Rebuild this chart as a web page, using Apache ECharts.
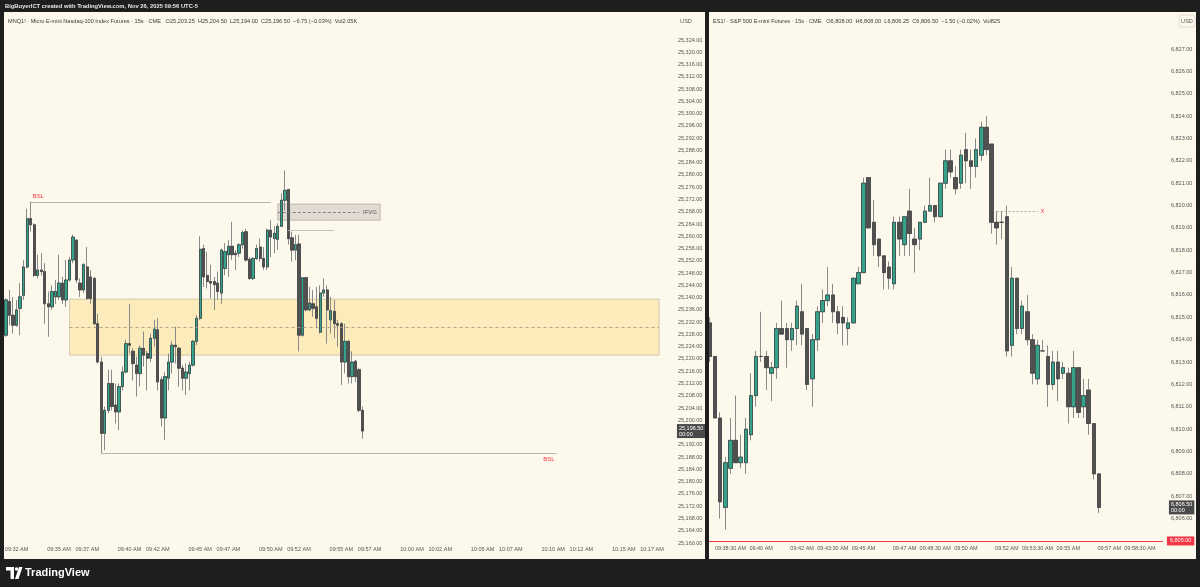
<!DOCTYPE html>
<html><head><meta charset="utf-8">
<script src="https://cdn.jsdelivr.net/npm/echarts@6/dist/echarts.min.js"></script>
<style>html,body{margin:0;padding:0;background:#1e1e1e;}#c{width:1200px;height:587px;}</style>
</head><body><div id="c"></div>
<script>
// ---------- MNQ1! (left pane), 15s candles: [open, close, low, high]
const mnqStart = '09:31:15';
const mnqSlotCount = 190;
const mnqCandles = [
[25227.75,25239.25,25227.25,25239.75],[25238.75,25234.25,25231,25242.5],[25234.25,25231,25228.25,25240.25],
[25231,25236,25230.5,25239.25],[25236.5,25240.25,25227.75,25244.75],[25240.75,25250,25239.25,25252.25],
[25250,25265.75,25249.5,25269],[25265.75,25263.75,25261.5,25271.25],[25263.75,25247.25,25246.75,25264.25],
[25247.25,25249,25246.25,25254],[25249,25248.5,25247.25,25254.5],[25248.5,25238,25231.5,25251.25],
[25238,25237,25227.25,25242],[25237,25242,25236,25244],[25240.25,25242,25238,25245.75],
[25240.25,25244.75,25239.25,25254],[25244.75,25239.25,25238,25246.75],[25239.25,25245.75,25237,25252.25],
[25245.75,25252.25,25245.25,25253.25],[25252.25,25259.75,25251.25,25260.5],[25258.75,25245.75,25244.75,25259],
[25244.75,25242.5,25240.25,25246.25],[25242.5,25250.75,25241.5,25251.25],[25250,25239.75,25239.25,25256.5],
[25246.75,25239.75,25238,25249],[25246.25,25231.5,25231,25246.75],[25231.5,25219,25218.5,25234.75],
[25219,25195.75,25189.25,25220.75],[25195.75,25203.25,25190.25,25204.5],[25203.25,25212,25202.25,25216.5],
[25212,25204.5,25203.25,25216.5],[25205,25202.75,25199,25212],[25202.75,25211,25196.75,25212],
[25211,25215.75,25209.75,25217.5],[25215.75,25225,25215.25,25226.25],[25225,25224.5,25221.75,25238],
[25222.5,25218.5,25213,25223.5],[25218,25215.25,25207.75,25220.75],[25215.25,25223.5,25211,25224.5],
[25223.5,25221.25,25217.5,25229],[25221.75,25220.25,25209.75,25222.75],[25220.25,25226.75,25219,25228.25],
[25226.75,25229.75,25224,25232.75],[25229.5,25212.5,25209.75,25233.25],[25213.25,25200.75,25198,25214.25],
[25200.75,25214.25,25193.5,25215.75],[25213.75,25219,25209.75,25221.75],[25219,25224.5,25215.25,25225.75],
[25224.5,25224,25218.5,25230.5],[25223.5,25217,25211,25224],[25217,25213.75,25209.75,25218],
[25213.75,25215.75,25208.25,25218.5],[25215.25,25218,25209.75,25219],[25218,25225.75,25217.5,25226.25],
[25225.75,25233.25,25224.5,25234.25],[25233.25,25255.75,25232.75,25260],[25256,25246.75,25243.5,25257.25],
[25247.25,25245.25,25243,25255],[25245.25,25244.75,25239.75,25250.75],[25245.25,25244.25,25236,25246.75],
[25244.75,25242,25239.25,25248.5],[25241.5,25255.5,25238,25256],[25249.5,25255,25247.25,25257.75],
[25254,25256.75,25246.75,25258.75],[25256.75,25254,25252.25,25264.75],[25254.5,25254,25249,25255.5],
[25254.5,25257.25,25253.25,25257.75],[25257.25,25261.25,25256,25262],[25261.5,25252.25,25251.75,25262.5],
[25252.5,25246.25,25245.75,25253.25],[25246.25,25252.75,25245.75,25253.25],[25252.75,25256,25252.25,25257.25],
[25256.5,25252.75,25251.75,25259.25],[25252.75,25250,25249,25256.5],[25250,25262,25249,25262.5],
[25262,25259.75,25253.25,25265.25],[25259.25,25261,25254.5,25263.25],[25259,25263.25,25255.5,25264.25],
[25263.25,25271.75,25263,25274],[25271.75,25275,25268.5,25281.5],[25275.25,25259.25,25257.25,25275.5],
[25259.5,25255.5,25251.75,25261.5],[25255.5,25257.25,25252.25,25260.5],[25257.5,25227.75,25222.5,25260.5],
[25227.75,25246.5,25227.25,25246.75],[25246.5,25236,25235.5,25246.75],[25236,25238.25,25235.5,25243.5],
[25238,25236.5,25233.75,25242.5],[25237,25233.25,25230,25243.5],[25228.75,25241.5,25228.25,25244],
[25241.5,25242.5,25240.25,25246.25],[25242.5,25236,25225,25244],[25232.75,25235.75,25228.25,25240.25],
[25235.5,25231.5,25226.75,25239.25],[25231.5,25231,25224,25232.75],[25231.5,25219,25211.5,25232],
[25219,25225.75,25215.25,25231.5],[25225.75,25214.25,25212,25226.25],[25214.25,25219,25212,25222.5],
[25219.25,25214.25,25212.5,25219.75],[25216.5,25203.25,25202.75,25217],[25203.25,25196.5,25194,25204.5]
];
const mnqTimeLabels = ['09:32 AM','09:35 AM','09:37 AM','09:40 AM','09:42 AM','09:45 AM','09:47 AM','09:50 AM','09:52 AM','09:55 AM','09:57 AM','10:00 AM','10:02 AM','10:05 AM','10:07 AM','10:10 AM','10:12 AM','10:15 AM','10:17 AM'];
const mnqAxisMin = 25160, mnqAxisMax = 25332, mnqAxisStep = 4, mnqTopLabel = 25324;
// MNQ annotations
const mnqBslHigh = {from:'09:33:00', to:'09:50:00', price:25271.25};
const mnqBslLow = {from:'09:38:00', to:'10:10:15', price:25189.25};
const mnqZone = {from:'09:35:45', to:'10:17:30', top:25239.5, bottom:25221.25, mid:25230.4};
const mnqIfvg = {from:'09:50:30', to:'09:57:45', top:25270.5, bottom:25265.25, mid:25267.9, midTo:'09:56:15'};
const mnqIfvgLine = {from:'09:51:15', to:'09:54:30', price:25262};
const mnqChange = '−6.75 (−0.03%)', mnqVol = 'Vol2.05K';

// ---------- ES1! (right pane)
const esStart = '09:37:30';
const esSlotCount = 89;
const esCandles = [
[6814.75,6813.25,6813,6815],[6813.25,6810.5,6810.5,6813.25],[6810.5,6806.75,6806,6810.75],
[6806.5,6808.5,6805.5,6808.75],[6808.25,6809.5,6808,6810.5],[6809.5,6808.5,6808.5,6811.5],
[6808.5,6808.75,6808.25,6809.75],[6808.5,6810,6808,6810.5],[6809.75,6811.5,6809.5,6812.5],
[6811.5,6813.25,6811,6813.5],[6813.25,6813.25,6813,6815.25],[6813.25,6812.75,6811.75,6813.5],
[6812.5,6812.75,6811.25,6813],[6812.75,6814.5,6812.25,6814.75],[6814.5,6814.25,6814.25,6815.75],
[6814.5,6814,6812.75,6814.75],[6814,6814.5,6813.5,6814.75],[6814.5,6815.5,6813.75,6815.75],
[6815.25,6814.25,6813.75,6816.5],[6814.5,6812,6811.75,6814.5],[6812.25,6814,6811,6814.25],
[6814,6815.25,6813.5,6815.5],[6815.25,6815.75,6814.75,6816.25],[6815.75,6816,6815.5,6817.25],
[6816,6815.25,6814.75,6816.5],[6815.25,6814.75,6814.25,6815.5],[6815,6814.75,6813.75,6815.5],
[6814.5,6814.75,6813.75,6815],[6814.75,6816.75,6814.75,6816.75],[6816.5,6817,6816.5,6817.25],
[6817,6821,6817,6821.25],[6821.25,6819,6819,6821.25],[6819.25,6818.25,6817.75,6820.25],
[6818.5,6817.75,6817.25,6818.5],[6817.75,6817,6816.25,6817.75],[6817.25,6816.75,6816.25,6817.5],
[6816.5,6819.25,6816.25,6819.5],[6819.25,6818.5,6817.75,6819.5],[6818.25,6819.5,6817.75,6819.5],
[6819.75,6818.75,6817.75,6820.75],[6818.5,6818.25,6817,6819],[6818.5,6819.25,6818,6819.25],
[6819.25,6819.75,6819.25,6820],[6819.75,6820,6819.75,6821.25],[6820,6819.5,6819.25,6820],
[6819.5,6821,6819.5,6821],[6821,6822,6820.75,6822.5],[6822,6821.5,6821.25,6822.5],
[6821.25,6820.75,6820.5,6821.75],[6821,6822.25,6820.75,6822.5],[6822.5,6822,6821,6823.25],
[6822,6821.75,6820.75,6822.5],[6821.75,6822.5,6821.25,6823],[6822.25,6823.5,6822,6823.75],
[6823.5,6822.5,6822.25,6824],[6822.75,6819.25,6818.75,6822.75],[6819.25,6819,6818.25,6819.75],
[6819.25,6819.25,6818.5,6819.75],[6819.5,6813.5,6813.25,6820],[6813.75,6816.75,6813.25,6817.25],
[6816.75,6814.5,6814.25,6816.75],[6814.5,6815.5,6814.25,6815.75],[6815.25,6814,6813.75,6816],
[6814,6812.5,6812,6814.25],[6812.25,6813.75,6812,6814],[6813.5,6813.5,6813.5,6814],
[6813.25,6812,6811,6813.75],[6812,6813,6811.75,6813.5],[6813,6812.25,6811.25,6813.5],
[6812.5,6812.75,6812.25,6813],[6812.5,6811,6810.25,6812.75],[6811,6812.75,6810.5,6813.5],
[6812.75,6810.75,6810.5,6812.75],[6811,6811.5,6810.5,6812.25],[6811.75,6810.25,6809.75,6812.25],
[6810.25,6808,6807.75,6810.25],[6808,6806.5,6806.25,6808]
];
const esTimeLabels = ['09:38:30 AM','09:40 AM','09:42 AM','09:43:30 AM','09:45 AM','09:47 AM','09:48:30 AM','09:50 AM','09:52 AM','09:53:30 AM','09:55 AM','09:57 AM','09:58:30 AM'];
const esAxisMin = 6805, esAxisMax = 6828.5, esAxisStep = 1, esTopLabel = 6827;
const esAlertLevel = 6805;
const esXLine = {from:'09:51:30', to:'09:53:30', price:6819.75};
const esChange = '−1.50 (−0.02%)', esVol = 'Vol825';

// ---------- helpers
const fmt = v => v.toLocaleString('en-US',{minimumFractionDigits:2,maximumFractionDigits:2});
const pad = n => String(n).padStart(2,'0');
function makeSlots(start, n){
  const p = start.split(':').map(Number); const t0 = p[0]*3600+p[1]*60+p[2]; const out=[];
  for(let i=0;i<n;i++){const t=t0+i*15; out.push(pad(Math.floor(t/3600))+':'+pad(Math.floor(t/60)%60)+':'+pad(t%60));}
  return out;
}
function labelMap(labels){
  const m={}; labels.forEach(l=>{let t=l.replace(' AM','').replace(' PM',''); if(t.length===5) t+=':00'; m[t]=l;}); return m;
}
const mnqCats = makeSlots(mnqStart, mnqSlotCount);
const esCats = makeSlots(esStart, esSlotCount);
const mnqLab = labelMap(mnqTimeLabels), esLab = labelMap(esTimeLabels);
const bodies = arr => arr.map(d=>[d[0],d[1],Math.min(d[0],d[1]),Math.max(d[0],d[1])]);
const UP='#35a38c', DOWN='#505050', WICK='#8a8a8a';
const FONT='"Liberation Sans", Arial, sans-serif';
const mL = mnqCandles[mnqCandles.length-1], eL = esCandles[esCandles.length-1];
const mnqHeader = 'MNQ1! · Micro E-mini Nasdaq-100 Index Futures · 15s · CME   O'+fmt(mL[0])+'  H'+fmt(mL[3])+'  L'+fmt(mL[2])+'  C'+fmt(mL[1])+'  '+mnqChange+'  '+mnqVol;
const esHeader = 'ES1! · S&P 500 E-mini Futures · 15s · CME   O'+fmt(eL[0])+'  H'+fmt(eL[3])+'  L'+fmt(eL[2])+'  C'+fmt(eL[1])+'  '+esChange+'  '+esVol;

function xAxisCfg(grid, cats, lab, margin){
  return {type:'category', gridIndex:grid, data:cats, boundaryGap:true,
    axisLine:{show:false}, axisTick:{show:false}, splitLine:{show:false},
    axisLabel:{interval:(i,v)=>lab[v]!==undefined, formatter:v=>lab[v]||'', fontSize:5.5, color:'#555', margin:margin, fontFamily:FONT}};
}
function yAxisCfg(grid, mn, mx, step, top, margin){
  return {type:'value', gridIndex:grid, position:'right', min:mn, max:mx, interval:step, scale:true,
    axisLine:{show:false}, axisTick:{show:false}, splitLine:{show:false},
    axisLabel:{fontSize:5.5, color:'#555', margin:margin, fontFamily:FONT, formatter:v=> v>top ? '' : fmt(v)}};
}
const wickStyle = {color:UP, color0:DOWN, borderColor:WICK, borderColor0:WICK, borderWidth:1};
const bodyStyle = {color:UP, color0:DOWN, borderColor:'#2f2f2f', borderColor0:'#3c3c3c', borderWidth:0.6};
const priceTag = (v, txt, bg, dist) => ({yAxis:v, lineStyle:{color:'rgba(0,0,0,0)', width:0}, label:{show:true, position:'end', distance:dist, formatter:txt, backgroundColor:bg, color:'#fff', fontSize:5.5, lineHeight:6, padding:[1,2], fontFamily:FONT}});

const chart = echarts.init(document.getElementById('c'), null, {renderer:'canvas'});
chart.setOption({
  animation:false,
  backgroundColor:'#1e1e1e',
  grid:[
    {left:4.235, top:15.46, width:670.7, height:527.54},
    {left:707.44, top:15.46, width:455.5, height:525.5}
  ],
  xAxis:[ xAxisCfg(0, mnqCats, mnqLab, 3), xAxisCfg(1, esCats, esLab, 5) ],
  yAxis:[ yAxisCfg(0, mnqAxisMin, mnqAxisMax, mnqAxisStep, mnqTopLabel, 3), yAxisCfg(1, esAxisMin, esAxisMax, esAxisStep, esTopLabel, 8) ],
  series:[
    {type:'candlestick', xAxisIndex:0, yAxisIndex:0, data:mnqCandles, barWidth:2.8, itemStyle:wickStyle, silent:true, z:2,
     markArea:{silent:true, data:[
       [{coord:[mnqZone.from, mnqZone.top], itemStyle:{color:'rgba(250,215,100,0.36)', borderColor:'rgba(160,150,125,0.55)', borderWidth:0.8}}, {coord:[mnqZone.to, mnqZone.bottom]}],
       [{coord:[mnqIfvg.from, mnqIfvg.top], itemStyle:{color:'rgba(120,105,120,0.2)', borderColor:'#b3aba9', borderWidth:0.8}}, {coord:[mnqIfvg.to, mnqIfvg.bottom]}]
     ]}},
    {type:'candlestick', xAxisIndex:0, yAxisIndex:0, data:bodies(mnqCandles), barWidth:2.8, itemStyle:bodyStyle, silent:true, z:3,
     markLine:{silent:true, symbol:['none','none'], animation:false, data:[
       [{coord:[mnqBslHigh.from, mnqBslHigh.price], lineStyle:{color:'#bab5af', width:1, type:'solid'}, label:{show:true, position:'insideStartTop', formatter:'BSL', color:'#f23645', fontSize:6, distance:[2,2], fontFamily:FONT}}, {coord:[mnqBslHigh.to, mnqBslHigh.price]}],
       [{coord:[mnqBslLow.from, mnqBslLow.price], lineStyle:{color:'#bab5af', width:1, type:'solid'}, label:{show:true, position:'insideEndBottom', formatter:'BSL', color:'#f23645', fontSize:6, distance:[2,3], fontFamily:FONT}}, {coord:[mnqBslLow.to, mnqBslLow.price]}],
       [{coord:[mnqZone.from, mnqZone.mid], lineStyle:{color:'#a99b86', width:0.9, type:[3,3]}, label:{show:false}}, {coord:[mnqZone.to, mnqZone.mid]}],
       [{coord:[mnqIfvg.from, mnqIfvg.mid], lineStyle:{color:'#777', width:0.9, type:[3,2]}, label:{show:true, position:'end', formatter:'IFVG', color:'#555', fontSize:6, distance:4, fontFamily:FONT}}, {coord:[mnqIfvg.midTo, mnqIfvg.mid]}],
       [{coord:[mnqIfvgLine.from, mnqIfvgLine.price], lineStyle:{color:'#c4bfb9', width:1, type:'solid'}, label:{show:false}}, {coord:[mnqIfvgLine.to, mnqIfvgLine.price]}],
       priceTag(mL[1], fmt(mL[1])+'\n00:00', '#4a4a4a', 2)
     ]}},
    {type:'candlestick', xAxisIndex:1, yAxisIndex:1, data:esCandles, barWidth:4, itemStyle:wickStyle, silent:true, z:2},
    {type:'candlestick', xAxisIndex:1, yAxisIndex:1, data:bodies(esCandles), barWidth:4, itemStyle:bodyStyle, silent:true, z:3,
     markLine:{silent:true, symbol:['none','none'], animation:false, data:[
       {yAxis:esAlertLevel, lineStyle:{color:'#f23645', width:1, type:'solid'}, label:{show:true, position:'end', distance:4, formatter:fmt(esAlertLevel), backgroundColor:'#f23645', color:'#fff', fontSize:5.5, padding:[1.5,3], fontFamily:FONT}},
       priceTag(eL[1], fmt(eL[1])+'\n00:00', '#4a4a4a', 6),
       [{coord:[esXLine.from, esXLine.price], lineStyle:{color:'#999', width:0.8, type:[2,2]}, label:{show:true, position:'end', formatter:'X', color:'#f23645', fontSize:6, distance:3, fontFamily:FONT}}, {coord:[esXLine.to, esXLine.price]}]
     ]}}
  ],
  graphic:[
    {type:'rect', z:-10, shape:{x:4,y:12,width:701,height:547}, style:{fill:'#fdf8ec'}},
    {type:'rect', z:-10, shape:{x:709,y:12,width:487,height:547}, style:{fill:'#fdf8ec'}},
    {type:'rect', z:100, shape:{x:705,y:12,width:4,height:547}, style:{fill:'#1e1e1e'}},
    {type:'rect', z:100, shape:{x:0,y:12,width:4,height:547}, style:{fill:'#1e1e1e'}},
    {type:'rect', z:100, shape:{x:1196,y:12,width:4,height:547}, style:{fill:'#1e1e1e'}},
    {type:'text', z:100, x:5, y:6, style:{text:'BigBuyerICT created with TradingView.com, Nov 26, 2025 09:56 UTC-5', fill:'#e6e6e6', font:'bold 5.8px '+FONT, textVerticalAlign:'middle'}},
    {type:'text', z:100, x:8, y:21, style:{text:mnqHeader, fill:'#3a3a3a', font:'5.6px '+FONT, textVerticalAlign:'middle'}},
    {type:'text', z:100, x:686, y:21, style:{text:'USD', fill:'#555', font:'5.6px '+FONT, textAlign:'center', textVerticalAlign:'middle'}},
    {type:'text', z:100, x:713, y:21, style:{text:esHeader, fill:'#3a3a3a', font:'5.6px '+FONT, textVerticalAlign:'middle'}},
    {type:'rect', z:100, shape:{x:1179,y:15,width:16,height:12,r:2}, style:{fill:'#fdf8ec', stroke:'#d8d3cb', lineWidth:0.8}},
    {type:'text', z:101, x:1187, y:21, style:{text:'USD', fill:'#555', font:'5.6px '+FONT, textAlign:'center', textVerticalAlign:'middle'}},
    // TradingView logo
    {type:'polygon', z:100, shape:{points:[[6,567],[14,567],[14,579],[10.5,579],[10.5,570.5],[6,570.5]]}, style:{fill:'#fff'}},
    {type:'circle', z:100, shape:{cx:16.5,cy:569,r:1.7}, style:{fill:'#fff'}},
    {type:'polygon', z:100, shape:{points:[[19,567],[22.5,567],[18.5,579],[15,579]]}, style:{fill:'#fff'}},
    {type:'text', z:100, x:25, y:573, style:{text:'TradingView', fill:'#fff', font:'bold 11px '+FONT, textVerticalAlign:'middle'}}
  ]
});
</script></body></html>
